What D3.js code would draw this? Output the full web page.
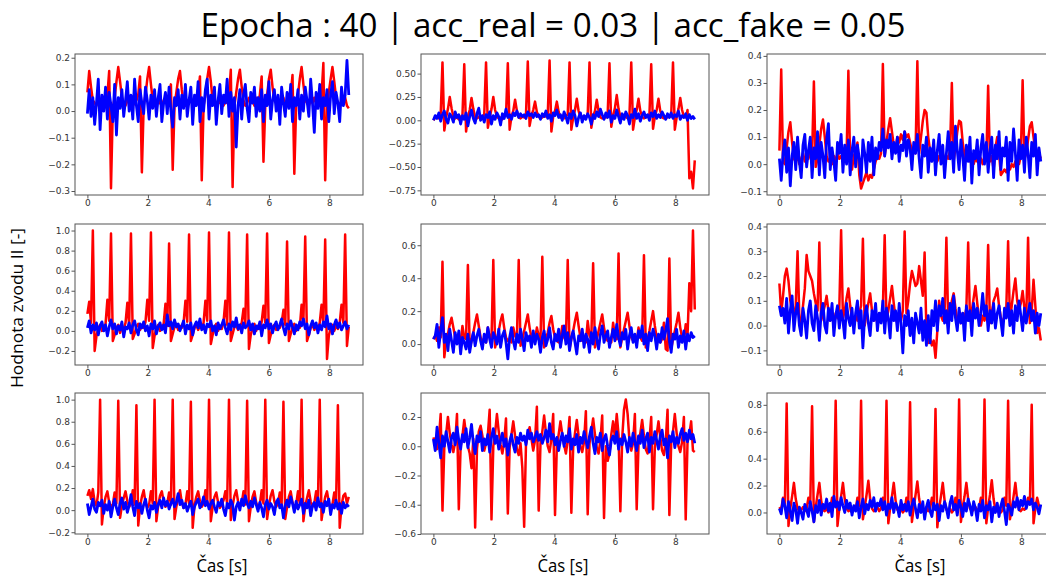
<!DOCTYPE html>
<html><head><meta charset="utf-8">
<script src="https://cdn.jsdelivr.net/npm/d3@7"></script>
<style>body{margin:0;background:#fff;} svg{display:block;}</style>
</head><body><svg id="c" width="1046" height="579"></svg>
<script>
// sampling period of the signals [s]
const sampleStep = 0.06;
const xTicks = [0, 2, 4, 6, 8];

const title = "Epocha : 40 | acc_real = 0.03 | acc_fake = 0.05";
const yLabel = "Hodnota zvodu II [-]";
const xLabel = "Čas [s]";

// ---------- panel 1 ----------
const red1 = [0.07,0.15,0.09,0.04,0.03,0.02,0.04,0.03,0.02,0.05,
0.04,0.06,0.15,-0.29,0.01,0.05,0.11,0.165,0.11,0.05,
0.03,0.02,0.04,0.03,0.05,0.02,0.03,0.04,0.06,0.13,
-0.23,0.02,0.06,0.12,0.165,0.10,0.04,0.02,0.03,0.05,
0.03,0.02,0.04,0.03,0.05,0.06,0.10,-0.22,0.02,0.07,
0.12,0.15,0.08,0.03,0.02,0.04,0.03,0.05,0.02,0.03,
0.04,0.06,0.13,-0.26,0.02,0.06,0.12,0.165,0.11,0.04,
0.03,0.02,0.04,0.03,0.05,0.02,0.04,0.03,0.06,0.155,
-0.285,0.02,0.07,0.12,0.155,0.09,0.04,0.02,0.03,0.05,
0.03,0.04,0.02,0.05,0.03,0.06,0.13,-0.19,0.02,0.06,
0.12,0.155,0.09,0.04,0.03,0.02,0.04,0.03,0.05,0.02,
0.04,0.03,0.06,0.135,-0.235,0.02,0.06,0.12,0.165,0.10,
0.04,0.03,0.02,0.04,0.03,0.05,0.03,0.04,0.02,0.06,
0.18,-0.26,0.02,0.07,0.12,0.165,0.11,0.05,0.03,0.02,
0.04,0.03,0.05,0.02,0.01];
const blue1 = [-0.01,0.08,-0.02,0.05,-0.05,0.03,0.12,-0.07,0.06,0.00,
0.09,-0.03,0.07,0.02,-0.04,0.10,-0.09,0.05,0.01,0.08,
-0.02,0.04,0.11,0.00,0.06,-0.03,0.12,0.02,-0.04,0.08,
0.03,-0.01,0.09,0.04,-0.03,0.06,0.01,0.08,-0.02,0.05,
0.10,-0.04,0.03,0.07,-0.01,0.09,0.00,-0.06,0.05,0.02,
0.08,-0.03,0.06,0.01,0.10,-0.02,0.04,0.09,-0.05,0.06,
0.02,0.11,-0.04,0.05,0.00,0.08,0.12,-0.03,0.06,0.02,
0.09,-0.05,0.04,0.10,-0.01,0.06,0.03,0.12,-0.02,0.07,
0.00,0.05,-0.135,0.02,0.08,-0.03,0.06,0.10,0.01,-0.04,
0.07,0.03,0.09,-0.02,0.05,0.00,0.08,-0.04,0.06,0.02,
0.11,-0.03,0.04,0.08,0.00,0.06,-0.05,0.09,0.03,-0.02,
0.07,0.01,0.10,-0.04,0.05,0.02,0.08,-0.03,0.06,0.00,
0.09,0.04,-0.02,0.12,0.03,-0.08,0.07,0.01,0.10,-0.03,
0.05,0.02,0.08,-0.04,0.06,0.11,-0.01,0.07,0.03,-0.04,
0.09,0.02,0.06,0.19,0.06];

// ---------- panel 2 ----------
const red2 = [0.00,0.03,0.04,0.02,0.06,0.62,-0.11,0.03,0.12,0.25,
0.13,0.04,0.02,0.03,0.01,0.04,0.05,0.60,-0.12,0.04,
0.11,0.24,0.12,0.03,0.02,0.04,0.01,0.03,0.06,0.62,
-0.08,0.03,0.12,0.25,0.11,0.04,0.02,0.03,0.01,0.04,
0.05,0.61,-0.10,0.04,0.10,0.22,0.10,0.03,0.02,0.04,
0.03,0.06,0.63,-0.06,0.05,0.11,0.20,0.09,0.04,0.02,
0.03,0.05,0.04,0.06,0.64,-0.12,0.04,0.10,0.20,0.09,
0.03,0.04,0.02,0.05,0.06,0.62,-0.10,0.03,0.11,0.23,
0.10,0.03,0.04,0.02,0.04,0.06,0.62,-0.08,0.04,0.10,
0.22,0.10,0.03,0.02,0.04,0.03,0.06,0.61,-0.07,0.05,
0.13,0.27,0.12,0.04,0.02,0.03,0.04,0.02,0.05,0.62,
-0.10,0.03,0.11,0.23,0.10,0.04,0.02,0.03,0.04,0.05,
0.60,-0.09,0.04,0.11,0.23,0.10,0.03,0.02,0.04,0.03,
0.05,0.04,0.62,-0.10,0.03,0.12,0.24,0.11,0.04,0.03,
0.11,-0.62,-0.55,-0.73,-0.43];
const blue2 = [0.00,0.05,0.02,0.08,-0.01,0.06,0.10,0.01,-0.03,0.07,
0.04,-0.02,0.09,0.03,0.06,-0.04,0.05,0.01,0.08,-0.06,
0.04,0.11,0.02,-0.03,0.07,0.13,0.00,0.05,-0.02,0.06,
0.03,0.09,-0.04,0.05,0.01,0.08,0.04,-0.05,0.07,0.02,
0.12,0.03,0.06,0.01,0.08,0.05,0.10,0.03,0.07,0.04,
0.06,0.02,0.09,0.05,0.07,0.03,0.08,0.04,0.06,0.01,
0.07,0.04,0.10,0.02,0.06,-0.01,0.08,0.05,0.11,0.03,
0.06,0.00,0.09,0.04,-0.03,0.07,0.02,0.10,0.05,-0.06,
0.03,0.08,-0.02,0.05,0.01,0.07,0.03,-0.04,0.06,0.02,
0.09,0.04,0.12,0.06,0.01,0.08,0.03,0.10,-0.02,0.05,
0.02,0.11,0.04,-0.03,0.07,0.01,0.09,0.05,-0.04,0.06,
0.03,0.12,0.02,0.07,-0.01,0.05,0.09,0.03,0.06,0.00,
0.08,0.04,0.10,0.02,0.06,0.03,0.09,0.05,0.01,0.07,
0.03,0.08,0.02,0.06,0.04,0.10,0.01,0.05,0.03,0.07,
0.00,0.06,0.02,0.04,0.01];

// ---------- panel 3 ----------
const red3 = [0.05,0.35,0.01,0.00,0.06,0.12,0.155,0.08,0.02,0.01,
0.03,0.00,0.02,0.04,0.01,0.03,0.02,0.05,0.03,0.305,
-0.01,0.02,0.07,0.13,0.165,0.10,0.03,0.01,0.02,0.00,
0.03,0.01,0.04,0.02,0.03,0.01,0.04,0.03,0.345,0.00,
-0.02,0.03,0.05,0.08,-0.04,-0.09,-0.07,-0.05,-0.03,-0.06,
-0.04,-0.05,-0.02,0.01,0.03,0.02,0.04,0.37,0.03,0.08,
0.13,0.17,0.12,0.07,0.06,0.10,0.08,0.11,0.09,0.12,
0.10,0.11,0.08,0.05,0.06,0.04,0.38,0.04,0.10,0.16,
0.20,0.19,0.10,0.05,0.03,0.02,0.04,0.01,0.03,0.02,
0.04,0.01,0.03,0.02,0.05,0.30,0.01,0.06,0.12,0.16,
0.155,0.08,0.03,0.02,0.04,0.01,0.03,0.00,0.02,0.01,
0.03,0.02,0.00,0.03,0.02,0.29,0.01,0.03,-0.02,0.06,
0.10,0.04,-0.04,-0.03,-0.02,-0.03,-0.01,-0.02,0.00,-0.01,
0.01,0.02,0.00,0.03,0.31,0.02,0.04,0.09,0.14,0.155,
0.10,0.05,0.03,0.04,0.02];
const blue3 = [0.02,-0.06,0.04,0.09,-0.03,0.06,-0.08,0.03,0.08,-0.02,
0.10,0.01,-0.05,0.07,0.11,-0.01,0.05,0.10,-0.05,0.06,
0.02,0.12,-0.04,0.08,0.03,-0.05,0.09,0.15,-0.02,0.06,
0.01,-0.06,0.08,0.04,0.11,-0.03,0.07,0.00,0.09,-0.04,
0.05,0.10,-0.01,0.07,0.02,-0.06,0.09,0.04,-0.03,0.08,
0.01,0.10,-0.04,0.06,0.02,0.08,0.05,0.13,0.03,0.09,
0.06,0.11,0.02,0.08,0.04,0.10,0.01,0.07,0.05,0.12,
0.03,0.09,0.06,-0.02,0.08,0.04,0.11,0.02,-0.05,0.07,
0.03,0.10,-0.03,0.06,0.01,0.09,-0.04,0.05,0.11,0.00,
0.07,-0.05,0.04,0.12,0.02,0.08,-0.03,0.14,0.05,-0.02,
0.09,0.03,-0.06,0.07,0.01,0.10,-0.07,0.05,0.02,0.09,
-0.04,0.06,0.11,0.00,0.08,-0.03,0.05,0.10,-0.05,0.07,
0.02,0.12,-0.02,0.06,0.03,0.10,-0.06,0.08,0.01,0.13,
0.04,-0.06,0.09,0.02,0.07,-0.03,0.10,0.04,-0.05,0.08,
0.03,0.11,-0.04,0.06,0.01];

// ---------- panel 4 ----------
const red4 = [0.17,0.29,0.08,1.00,-0.20,-0.05,0.02,0.06,0.00,0.04,
0.07,0.31,0.10,0.97,-0.10,-0.04,0.03,0.06,-0.02,0.04,
0.02,0.08,0.28,0.05,0.97,-0.08,-0.03,0.04,0.07,0.01,
0.05,0.03,0.09,0.31,0.10,0.98,-0.17,-0.05,0.03,0.06,
0.00,0.04,0.07,0.27,0.05,0.87,-0.10,-0.03,0.04,0.07,
0.01,0.05,0.03,0.08,0.30,0.09,0.96,-0.10,-0.04,0.03,
0.06,0.01,0.05,0.02,0.08,0.30,0.10,0.98,-0.13,-0.04,
0.03,0.07,0.00,0.05,0.02,0.09,0.30,0.06,0.98,-0.10,
-0.03,0.04,0.06,0.01,0.05,0.08,0.22,0.07,0.96,-0.18,
-0.04,0.03,0.07,0.00,0.05,0.02,0.09,0.25,0.08,0.97,
-0.12,-0.04,0.04,0.06,0.01,0.05,0.03,0.08,0.21,0.06,
0.89,-0.10,-0.03,0.04,0.07,0.00,0.05,0.03,0.26,0.09,
0.94,-0.10,-0.04,0.03,0.06,0.01,0.05,0.02,0.08,0.26,
0.07,0.91,-0.28,-0.05,0.03,0.06,0.00,0.05,0.02,0.08,
0.26,0.08,0.96,-0.15,0.04];
const blue4 = [0.03,0.10,-0.02,0.06,0.01,0.08,-0.04,0.05,0.09,0.00,
0.06,-0.05,0.04,0.11,0.02,0.07,-0.03,0.05,0.01,0.09,
-0.06,0.04,0.02,0.08,-0.02,0.06,0.10,0.01,-0.04,0.07,
0.03,0.09,0.00,0.05,-0.05,0.07,0.02,0.10,-0.03,0.04,
0.08,0.01,0.06,-0.02,0.16,0.05,0.09,0.02,0.11,0.04,
0.07,0.00,0.05,0.10,-0.03,0.06,0.02,0.08,-0.04,0.05,
0.09,0.03,0.12,0.01,0.06,-0.02,0.07,0.04,0.10,0.00,
0.05,-0.04,0.08,0.02,0.06,0.11,0.03,-0.03,0.07,0.01,
0.09,0.04,0.13,0.02,0.06,-0.02,0.08,0.03,0.05,0.10,
0.01,0.07,-0.03,0.05,0.02,0.09,-0.05,0.06,0.03,0.11,
0.02,0.07,-0.02,0.05,0.09,0.01,0.06,0.12,0.03,-0.04,
0.07,0.02,0.10,0.04,-0.03,0.06,0.01,0.09,0.05,0.12,
0.02,0.07,-0.04,0.05,0.10,0.03,0.08,-0.02,0.06,0.01,
0.09,0.04,0.15,0.02,0.07,-0.03,0.06,0.11,0.03,0.08,
0.01,0.05,0.09,0.02,0.06];

// ---------- panel 5 ----------
const red5 = [0.03,0.05,0.02,0.10,0.04,0.50,-0.08,0.02,0.06,0.12,
0.16,0.10,0.04,0.02,0.03,0.01,0.11,0.04,0.03,0.48,
-0.03,0.02,0.07,0.13,0.18,0.11,0.04,0.02,0.03,0.01,
0.10,0.04,0.02,0.51,-0.02,0.03,0.08,0.14,0.18,0.10,
0.04,0.02,0.03,0.01,0.10,0.05,0.03,0.51,-0.01,0.03,
0.08,0.13,0.18,0.10,0.04,0.02,0.03,0.10,0.05,0.02,
0.53,-0.02,0.03,0.07,0.13,0.17,0.09,0.04,0.02,0.01,
0.03,0.11,0.04,0.02,0.51,-0.03,0.03,0.08,0.14,0.19,
0.11,0.04,0.02,0.03,0.01,0.14,0.05,0.03,0.49,-0.02,
0.03,0.08,0.13,0.18,0.10,0.04,0.02,0.03,0.01,0.13,
0.05,0.03,0.55,-0.02,0.04,0.09,0.14,0.19,0.11,0.04,
0.02,0.03,0.01,0.10,0.04,0.02,0.54,-0.02,0.03,0.08,
0.14,0.20,0.11,0.04,0.02,0.01,0.03,0.13,-0.03,-0.04,
0.52,-0.03,0.03,0.08,0.13,0.19,0.10,0.04,0.02,0.12,
0.05,0.37,0.20,0.69,0.21];
const blue5 = [0.03,0.05,0.12,-0.02,0.08,0.16,0.01,0.06,-0.04,0.09,
0.02,-0.05,0.07,0.00,0.08,-0.06,0.04,0.01,-0.03,0.06,
-0.05,0.02,0.07,-0.01,0.05,0.09,0.02,-0.03,0.06,0.01,
0.10,0.03,-0.02,0.07,0.04,0.00,0.09,-0.02,0.05,0.08,
0.01,-0.09,0.04,0.10,0.02,-0.03,0.06,0.01,0.09,0.03,
-0.04,0.07,0.02,0.05,-0.02,0.08,0.00,0.06,0.03,-0.05,
0.04,0.08,-0.01,0.03,0.10,0.01,-0.03,0.06,0.02,0.09,
-0.02,0.05,0.11,0.00,0.07,-0.04,0.04,0.08,0.01,-0.06,
0.05,0.02,0.09,-0.02,0.06,0.03,-0.05,0.07,0.00,0.10,
0.03,-0.03,0.06,0.11,0.01,0.05,0.08,-0.02,0.04,0.09,
0.02,0.12,0.04,-0.01,0.07,0.03,0.09,-0.03,0.05,0.10,
0.01,0.06,-0.02,0.08,0.04,0.11,0.00,0.06,-0.04,0.07,
0.02,0.09,0.05,-0.03,0.06,0.01,0.10,0.03,0.08,0.155,
0.02,-0.05,0.06,0.03,0.09,-0.02,0.05,0.01,0.08,-0.03,
0.06,0.02,0.07,0.04,0.05];

// ---------- panel 6 ----------
const red6 = [0.17,0.05,0.12,0.20,0.23,0.18,0.10,0.06,0.04,0.08,
0.30,0.03,0.01,0.08,0.15,0.285,0.22,0.20,0.18,0.13,
0.09,0.06,0.335,0.02,0.05,0.08,0.12,0.06,0.02,0.04,
0.01,0.05,0.03,0.07,0.385,0.03,0.06,0.11,0.15,0.08,
0.03,0.01,0.04,0.02,0.05,0.08,0.35,0.00,0.05,0.09,
0.13,0.06,0.02,0.04,0.01,0.05,0.03,0.07,0.365,0.02,
0.06,0.11,0.16,0.09,0.03,0.01,0.04,0.02,0.06,0.38,
0.05,0.10,0.17,0.22,0.19,0.16,0.17,0.24,0.18,0.12,
0.295,-0.03,-0.07,-0.05,-0.08,-0.06,-0.13,-0.02,0.10,0.04,
0.02,0.05,0.355,0.01,0.05,0.10,0.13,0.07,0.02,0.04,
0.01,0.05,0.03,0.07,0.335,0.02,0.06,0.11,0.16,0.09,
0.03,0.00,0.04,0.02,0.06,0.325,0.01,0.05,0.10,0.12,
0.15,0.08,0.03,0.01,0.04,0.07,0.34,0.02,0.08,0.14,
0.19,0.10,0.06,0.09,0.14,0.07,0.03,0.355,0.01,0.06,
0.185,0.08,-0.03,-0.01,-0.06];
const blue6 = [0.08,0.04,0.07,0.01,0.11,-0.03,0.06,0.12,-0.02,0.05,
0.09,0.00,-0.04,0.07,0.02,-0.05,0.06,0.10,0.01,-0.02,
0.08,0.03,-0.06,0.05,0.09,0.00,-0.03,0.07,0.02,0.09,
-0.04,0.04,0.08,-0.01,0.06,0.02,-0.05,0.09,0.03,0.00,
0.07,-0.03,0.05,0.10,-0.01,0.06,-0.09,0.04,0.08,0.01,
-0.04,0.06,0.02,0.09,-0.02,0.05,0.01,0.10,-0.03,0.07,
0.03,-0.05,0.08,0.02,0.06,-0.02,0.09,0.01,-0.11,0.04,
0.00,0.06,-0.04,0.03,-0.07,0.05,0.01,-0.03,0.07,-0.06,
0.02,-0.08,0.04,-0.07,0.06,0.00,0.10,-0.02,0.08,0.04,
0.11,0.01,0.06,-0.03,0.09,0.02,0.12,0.03,-0.02,0.07,
0.01,0.05,-0.06,0.08,0.02,0.06,-0.04,0.09,0.03,0.07,
0.00,0.05,0.13,0.04,0.08,-0.02,0.06,0.01,0.09,-0.01,
0.05,0.08,0.02,-0.04,0.07,0.03,0.09,0.00,0.06,-0.03,
0.08,0.02,0.10,0.04,-0.02,0.07,0.01,0.05,0.09,0.02,
0.06,-0.03,0.05,0.00,0.05];

// ---------- panel 7 ----------
const red7 = [0.13,0.18,0.10,0.19,0.07,0.04,0.16,1.00,-0.13,0.03,
0.12,0.17,0.07,0.03,0.05,0.16,0.06,0.99,-0.07,0.04,
0.11,0.17,0.08,0.03,0.06,0.18,0.05,0.95,-0.14,0.03,
0.12,0.18,0.07,0.02,0.05,0.17,0.06,1.00,-0.10,0.04,
0.13,0.17,0.08,0.03,0.06,0.16,0.05,1.00,-0.08,0.03,
0.11,0.18,0.07,0.02,0.05,0.17,0.06,0.98,-0.16,0.04,
0.12,0.17,0.08,0.03,0.06,0.18,0.05,1.00,-0.10,0.03,
0.12,0.16,0.07,0.02,0.05,0.09,0.17,0.06,1.00,-0.09,
0.04,0.13,0.18,0.08,0.03,0.06,0.17,0.05,0.99,-0.10,
0.03,0.12,0.17,0.07,0.02,0.05,0.18,0.06,1.00,-0.08,
0.04,0.13,0.18,0.08,0.03,0.06,0.16,0.05,0.98,-0.08,
0.03,0.12,0.17,0.07,0.02,0.05,0.17,0.06,1.00,-0.10,
0.04,0.11,0.18,0.08,0.03,0.06,0.17,0.05,1.00,-0.09,
0.03,0.12,0.17,0.07,0.02,0.05,0.16,0.06,0.95,-0.16,
0.04,0.13,0.15,0.06,0.12];
const blue7 = [0.06,-0.04,0.03,0.10,0.01,-0.02,0.07,0.04,0.09,-0.03,
0.05,0.00,0.08,-0.06,0.03,0.10,0.02,-0.04,0.06,0.11,
0.01,0.07,-0.02,0.04,0.14,0.03,-0.05,0.08,0.02,0.06,
-0.03,0.05,0.10,0.00,-0.07,0.04,0.01,0.07,-0.02,0.05,
0.09,0.02,0.11,0.04,0.08,0.01,0.06,0.10,0.03,0.07,
0.15,0.05,0.09,0.02,0.06,-0.01,0.04,0.08,-0.04,0.03,
0.07,0.10,0.02,0.05,0.12,0.04,0.08,0.01,0.06,0.09,
0.03,-0.02,0.07,0.04,0.10,0.01,-0.05,0.06,0.02,0.09,
0.05,-0.09,0.03,0.07,0.00,0.10,0.04,0.13,0.06,0.02,
0.08,0.03,0.11,0.05,-0.01,0.07,0.02,-0.06,0.05,0.09,
0.01,0.06,0.03,-0.04,0.07,0.10,0.02,0.05,-0.07,0.04,
0.09,0.03,0.12,0.06,-0.02,0.08,0.01,0.05,0.10,-0.03,
0.06,0.02,0.09,-0.05,0.04,0.07,0.00,0.11,0.03,0.06,
-0.02,0.08,0.04,0.10,-0.04,0.05,0.02,0.09,0.01,0.06,
-0.03,0.07,0.02,0.05,0.03];

// ---------- panel 8 ----------
const red8 = [0.06,0.02,-0.02,0.05,0.22,-0.44,-0.01,0.08,0.20,0.09,
0.01,-0.04,0.03,0.22,-0.43,0.00,0.07,0.18,0.08,0.00,
-0.05,-0.15,0.05,-0.555,-0.02,0.10,0.14,0.07,-0.03,0.02,
0.08,0.25,-0.50,0.00,0.09,0.22,0.10,0.01,-0.05,0.03,
0.19,-0.46,-0.01,0.08,0.17,0.07,-0.02,-0.06,0.02,-0.15,
-0.55,0.01,0.07,0.13,0.05,-0.03,0.04,0.27,-0.44,0.02,
0.10,0.21,0.09,0.00,-0.04,0.05,0.22,-0.47,0.00,0.08,
0.17,0.08,0.01,-0.05,0.04,0.20,-0.455,-0.01,0.09,0.18,
0.07,0.00,-0.04,0.03,0.24,-0.465,0.02,0.10,0.19,0.08,
-0.01,-0.05,0.04,0.21,-0.49,0.00,-0.10,-0.05,0.08,0.17,
0.06,0.22,0.08,-0.445,0.05,0.25,0.32,0.22,0.04,-0.03,
0.02,0.22,-0.43,0.01,0.09,0.18,0.07,-0.02,-0.05,0.04,
0.20,-0.43,0.00,0.08,0.17,0.06,-0.03,-0.06,0.03,0.25,
-0.47,0.02,0.10,0.22,0.09,0.00,-0.04,0.03,0.20,-0.50,
0.03,0.08,0.17,-0.03,-0.04];
const blue8 = [0.05,-0.03,0.13,0.02,-0.08,0.07,0.00,0.10,0.03,-0.04,
0.06,0.09,0.01,0.13,0.04,-0.02,0.08,0.03,0.12,-0.01,
0.06,0.15,0.02,-0.05,0.07,0.03,0.10,-0.03,0.05,0.01,
0.08,-0.04,0.06,0.12,0.02,0.07,-0.02,0.04,0.09,0.00,
0.05,-0.06,0.03,0.08,0.01,-0.04,0.06,0.02,0.09,0.04,
0.07,0.01,0.11,0.05,0.09,0.03,0.06,0.10,0.04,0.08,
0.02,0.06,0.11,0.03,0.155,0.05,0.08,0.01,0.06,-0.03,
0.04,0.09,0.00,0.07,0.03,0.12,-0.02,0.05,0.01,0.08,
-0.04,0.06,0.02,0.10,0.04,-0.01,0.07,0.13,0.02,-0.05,
0.06,0.03,0.09,-0.03,0.05,0.08,0.00,-0.06,0.04,0.07,
0.02,0.10,-0.02,0.05,0.01,0.08,0.03,-0.04,0.06,0.00,
0.09,0.03,-0.03,0.07,0.02,0.11,-0.01,0.05,0.09,-0.04,
0.06,0.02,0.10,0.04,-0.02,0.07,0.11,0.01,0.05,-0.08,
0.07,0.03,0.10,-0.01,0.06,0.02,0.08,0.12,0.04,0.09,
0.03,0.11,0.05,0.08,0.02];

// ---------- panel 9 ----------
const red9 = [0.04,0.02,0.11,0.05,0.81,-0.10,0.03,0.12,0.22,0.10,
0.03,0.01,0.02,0.04,0.01,0.03,0.11,0.06,0.79,-0.07,
0.04,0.13,0.22,0.09,0.02,0.01,0.03,0.00,0.02,0.11,
0.05,0.83,-0.10,0.03,0.12,0.22,0.10,0.03,0.01,0.02,
0.00,0.03,0.02,0.11,0.05,0.83,-0.05,0.04,0.13,0.235,
0.10,0.03,0.01,0.02,0.04,0.01,0.03,0.11,0.06,0.83,
-0.08,0.03,0.12,0.22,0.09,0.02,0.01,0.03,0.00,0.02,
0.11,0.05,0.82,-0.07,0.04,0.13,0.23,0.10,0.03,0.01,
0.02,0.04,0.01,0.03,0.11,0.06,0.77,-0.11,0.03,0.12,
0.22,0.09,0.02,0.01,0.03,0.00,0.02,0.11,0.05,0.84,
-0.07,0.04,0.12,0.22,0.10,0.03,0.01,0.02,0.04,0.01,
0.03,0.11,0.06,0.84,-0.08,0.04,0.13,0.24,0.10,0.02,
0.01,0.03,0.00,0.02,0.11,0.05,0.83,-0.05,0.03,0.12,
0.22,0.09,0.02,0.01,0.03,0.02,0.04,0.11,0.06,0.80,
-0.08,0.03,0.11,0.05,0.04];
const blue9 = [0.03,-0.01,0.10,0.05,-0.04,0.08,0.01,-0.06,0.07,0.02,
-0.08,0.04,0.00,-0.05,0.06,0.02,-0.03,0.08,0.01,-0.07,
0.05,0.00,0.09,-0.02,0.06,0.03,0.10,0.01,0.07,-0.03,
0.12,0.04,0.08,0.02,0.11,0.05,0.00,0.09,0.03,0.07,
-0.02,0.05,0.01,0.08,-0.04,0.04,0.10,-0.01,0.06,0.02,
0.09,0.04,0.11,0.01,0.07,0.05,0.10,0.02,0.08,-0.02,
0.06,0.03,0.11,0.00,0.07,0.04,-0.03,0.09,0.02,0.06,
0.01,0.08,-0.02,0.05,0.10,0.03,-0.04,0.06,0.00,0.08,
-0.05,0.04,0.09,0.01,-0.03,0.07,0.02,0.06,-0.06,0.05,
0.01,0.08,0.03,-0.04,0.07,0.12,0.02,0.06,-0.02,0.09,
0.04,-0.03,0.07,0.01,0.10,0.05,-0.02,0.08,0.03,-0.06,
0.06,0.01,0.09,-0.04,0.05,0.02,0.08,-0.07,0.04,0.00,
0.07,-0.03,0.05,0.10,0.01,-0.09,0.06,0.03,-0.02,0.08,
0.04,0.11,0.02,0.09,0.05,0.12,0.03,0.08,0.06,0.10,
0.02,0.07,0.04,-0.01,0.06];

// axis limits and tick values per panel
const yDomains = [[-0.315,0.214],[-0.80,0.71],[-0.114,0.407],
                  [-0.34,1.065],[-0.127,0.729],[-0.159,0.41],
                  [-0.216,1.06],[-0.60,0.364],[-0.16,0.888]];
const yTicks = [[-0.3,-0.2,-0.1,0,0.1,0.2],[-0.75,-0.5,-0.25,0,0.25,0.5],[-0.1,0,0.1,0.2,0.3,0.4],
                [-0.2,0,0.2,0.4,0.6,0.8,1.0],[0,0.2,0.4,0.6],[-0.1,0,0.1,0.2,0.3,0.4],
                [-0.2,0,0.2,0.4,0.6,0.8,1.0],[-0.6,-0.4,-0.2,0,0.2],[0,0.2,0.4,0.6,0.8]];
const yFormats = [".1f",".2f",".1f",".1f",".1f",".1f",".1f",".1f",".1f"];
const reds = [red1,red2,red3,red4,red5,red6,red7,red8,red9];
const blues = [blue1,blue2,blue3,blue4,blue5,blue6,blue7,blue8,blue9];

const svg = d3.select("#c");
svg.append("rect").attr("width",1046).attr("height",579).attr("fill","#ffffff");

const colX = [75, 421, 767], rowY = [54, 224, 393], pw = 288, ph = 141;
const xDomain = [-0.41, 9.11];

reds.forEach((red, k) => {
  const x0 = colX[k % 3], y0 = rowY[Math.floor(k / 3)];
  const x = d3.scaleLinear().domain(xDomain).range([x0, x0 + pw]);
  const y = d3.scaleLinear().domain(yDomains[k]).range([y0 + ph, y0]);
  const g = svg.append("g");
  const line = d3.line().x((d, i) => x(i * sampleStep)).y(d => y(d));
  g.append("path").datum(red).attr("d", line)
    .attr("fill", "none").attr("stroke", "#ff0000").attr("stroke-width", 2.5)
    .attr("stroke-linejoin", "round");
  g.append("path").datum(blues[k]).attr("d", line)
    .attr("fill", "none").attr("stroke", "#0000ff").attr("stroke-width", 2.8)
    .attr("stroke-linejoin", "round");

  const ya = g.append("g").attr("transform", `translate(${x0},0)`)
    .call(d3.axisLeft(y).tickValues(yTicks[k]).tickFormat(d3.format(yFormats[k])).tickSize(3.5).tickPadding(1.5));
  const xa = g.append("g").attr("transform", `translate(0,${y0 + ph})`)
    .call(d3.axisBottom(x).tickValues(xTicks).tickFormat(d3.format("d")).tickSize(3.5).tickPadding(1));
  [ya, xa].forEach(a => {
    a.select(".domain").remove();
    a.selectAll(".tick line").attr("stroke", "#444").attr("stroke-width", 0.9);
    a.selectAll(".tick text").attr("fill", "#333").style("font-family", "DejaVu Sans").style("font-size", "9px");
  });
  g.append("rect").attr("x", x0).attr("y", y0).attr("width", pw).attr("height", ph)
    .attr("fill", "none").attr("stroke", "#555").attr("stroke-width", 1);
});

svg.append("text").text(title)
  .attr("x", 553).attr("y", 37).attr("text-anchor", "middle")
  .attr("textLength", 705).attr("lengthAdjust", "spacingAndGlyphs")
  .style("font-family", "'Liberation Sans Narrow', 'Open Sans', sans-serif")
  .style("font-size", "32px").attr("fill", "#000");

svg.append("text").text(yLabel)
  .attr("transform", "translate(23,308) rotate(-90)")
  .attr("text-anchor", "middle")
  .attr("textLength", 160).attr("lengthAdjust", "spacingAndGlyphs")
  .style("font-family", "'Liberation Sans Narrow', 'Open Sans', sans-serif")
  .style("font-size", "16px").attr("fill", "#000");

[222, 563, 920].forEach(cx => {
  svg.append("text").text(xLabel)
    .attr("x", cx).attr("y", 572).attr("text-anchor", "middle")
    .attr("textLength", 51).attr("lengthAdjust", "spacingAndGlyphs")
    .style("font-family", "'Liberation Sans Narrow', 'Open Sans', sans-serif")
    .style("font-size", "19px").attr("fill", "#000");
});
</script></body></html>
